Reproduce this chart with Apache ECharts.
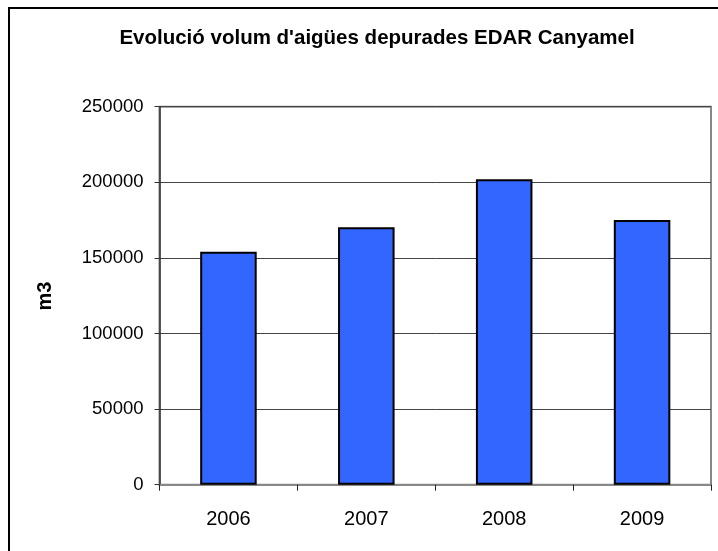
<!DOCTYPE html>
<html>
<head>
<meta charset="utf-8">
<script src="https://cdn.jsdelivr.net/npm/echarts@6/dist/echarts.min.js"></script>
<style>
html,body{margin:0;padding:0;background:#fff;}
#chart{width:718px;height:551px;}
</style>
</head>
<body>
<div id="chart"></div>
<script>
const titleText = "Evolució volum d'aigües depurades EDAR Canyamel";
const yAxisName = "m3";
const years = ["2006", "2007", "2008", "2009"];
const volumes = [154000, 170300, 202000, 175000];
const yMin = 0, yMax = 250000, yStep = 50000;

const chart = echarts.init(document.getElementById('chart'), null, {renderer: 'canvas'});
const FONT = '"Liberation Sans", Arial, sans-serif';
chart.setOption({
  animation: false,
  backgroundColor: '#fff',
  title: {
    text: titleText,
    left: 372,
    textAlign: 'center',
    top: 23,
    textStyle: {fontFamily: FONT, fontSize: 20.5, fontWeight: 'bold', color: '#000'}
  },
  graphic: [
    {type: 'rect', shape: {x: 9, y: 8, width: 760, height: 600}, style: {fill: null, stroke: '#000', lineWidth: 2}, silent: true, z: -1},
    {type: 'text', x: 45, y: 296, rotation: Math.PI / 2,
     style: {text: yAxisName, font: 'bold 20px "Liberation Sans", Arial, sans-serif', fill: '#000', align: 'center', verticalAlign: 'middle'}}
  ],
  grid: {
    left: 159.5, right: 7, top: 106.7, bottom: 66.3,
    show: true, borderColor: '#888', borderWidth: 2, backgroundColor: 'transparent'
  },
  xAxis: {
    type: 'category',
    data: years,
    boundaryGap: true,
    axisLine: {show: true, lineStyle: {color: '#888', width: 2}},
    axisTick: {show: true, length: 6, lineStyle: {color: '#222', width: 1}},
    axisLabel: {fontFamily: FONT, fontSize: 20, color: '#000', margin: 25}
  },
  yAxis: {
    type: 'value',
    min: yMin, max: yMax, interval: yStep,
    axisLine: {show: true, lineStyle: {color: '#333', width: 1.5}},
    axisTick: {show: true, length: 5, lineStyle: {color: '#333', width: 1}},
    splitLine: {show: true, lineStyle: {color: '#444', width: 1}},
    axisLabel: {fontFamily: FONT, fontSize: 18.5, color: '#000', margin: 16, formatter: v => String(v)}
  },
  series: [{
    type: 'bar',
    data: volumes,
    barWidth: '41%',
    itemStyle: {color: '#3366FF', borderColor: '#000', borderWidth: 2}
  }]
});
</script>
</body>
</html>
